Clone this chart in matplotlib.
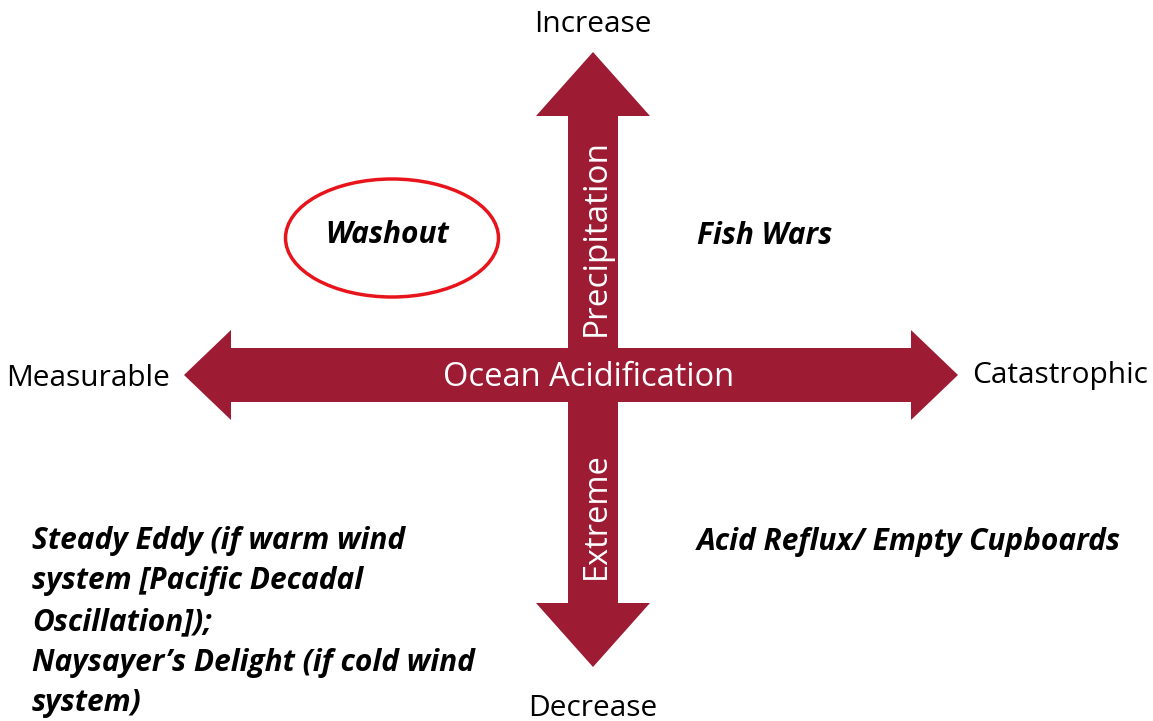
import matplotlib.pyplot as plt
from matplotlib.patches import Polygon, Ellipse

# axis labels of the scenario matrix
axis_top = 'Increase'
axis_bottom = 'Decrease'
axis_left = 'Measurable'
axis_right = 'Catastrophic'
horiz_label = 'Ocean Acidification'
vert_up_label = 'Precipitation'
vert_down_label = 'Extreme'

# scenario names per quadrant
quad_top_left = 'Washout'
quad_top_right = 'Fish Wars'
quad_bottom_right = 'Acid Reflux/ Empty Cupboards'
quad_bottom_left = ['Steady Eddy (if warm wind',
                    'system [Pacific Decadal',
                    'Oscillation]);',
                    'Naysayer\u2019s Delight (if cold wind',
                    'system)']

W, H = 1153, 721
arrow_color = '#9E1B34'
font = ['Open Sans', 'DejaVu Sans']

# arrow geometry in pixel space
cx, cy = 593, 375
v_top, v_bot = 52, 667
v_shaft, v_head, v_head_len = 25, 57, 64
h_left, h_right = 184, 958
h_shaft, h_head, h_head_len = 27, 45, 47


def double_arrow_v(x, y0, y1, sh, hh, hl):
    return [(x, y0), (x + hh, y0 + hl), (x + sh, y0 + hl), (x + sh, y1 - hl),
            (x + hh, y1 - hl), (x, y1), (x - hh, y1 - hl), (x - sh, y1 - hl),
            (x - sh, y0 + hl), (x - hh, y0 + hl)]


def double_arrow_h(y, x0, x1, sh, hh, hl):
    return [(px, py) for py, px in double_arrow_v(y, x0, x1, sh, hh, hl)]


fig = plt.figure(figsize=(W / 100, H / 100), dpi=100)
ax = fig.add_axes([0, 0, 1, 1])
ax.set_xlim(0, W)
ax.set_ylim(H, 0)
ax.axis('off')

ax.add_patch(Polygon(double_arrow_h(cy, h_left, h_right, h_shaft, h_head, h_head_len),
                     closed=True, color=arrow_color, lw=0))
ax.add_patch(Polygon(double_arrow_v(cx, v_top, v_bot, v_shaft, v_head, v_head_len),
                     closed=True, color=arrow_color, lw=0))

# red ring around the highlighted scenario
ax.add_patch(Ellipse((392, 238), 213, 118, fill=False, ec='#E8141B', lw=2.5))

txt = dict(family=font, fontsize=21.5)
ax.text(cx, 24, axis_top, ha='center', va='center', **txt)
ax.text(cx, 708, axis_bottom, ha='center', va='center', **txt)
ax.text(170, 379, axis_left, ha='right', va='center', **txt)
ax.text(972, 376, axis_right, ha='left', va='center', **txt)
ax.text(589, 377, horiz_label, ha='center', va='center', color='white',
        family=font, fontsize=23.5)
ax.text(596, 238, vert_up_label, ha='center', va='center', color='white',
        rotation=90, family=font, fontsize=24)
ax.text(596, 516, vert_down_label, ha='center', va='center', color='white',
        rotation=90, family=font, fontsize=23.5)

bi = dict(family=font, fontsize=21.5, fontweight='bold', fontstyle='italic')
ax.text(387, 235, quad_top_left, ha='center', va='center', **bi)
ax.text(697, 236, quad_top_right, ha='left', va='center', **bi)
ax.text(697, 542, quad_bottom_right, ha='left', va='center', **bi)
for i, line in enumerate(quad_bottom_left):
    ax.text(32, 541 + i * 40.5, line, ha='left', va='center', **bi)

fig.savefig('out.png', dpi=100)
